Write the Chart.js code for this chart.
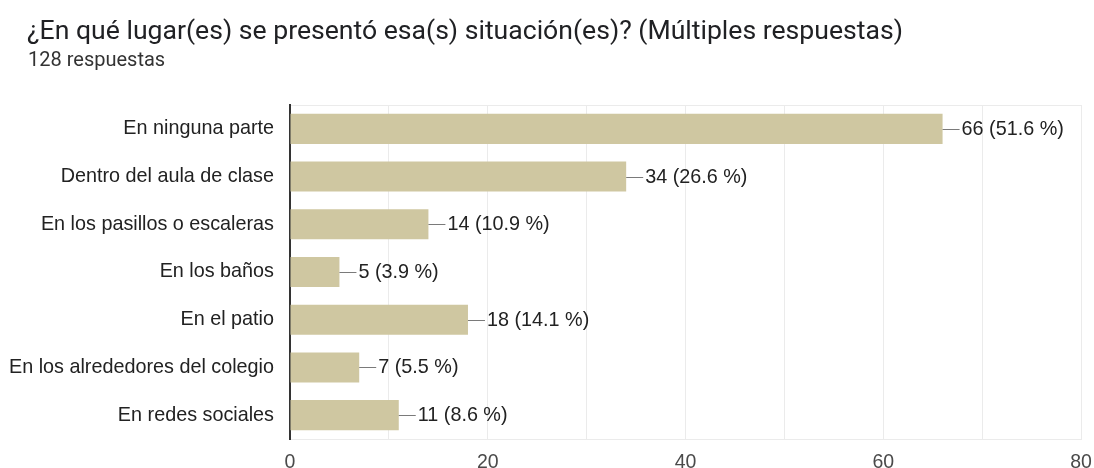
<!DOCTYPE html>
<html>
<head>
<meta charset="utf-8">
<script src="https://cdn.jsdelivr.net/npm/chart.js@4.4.1/dist/chart.umd.min.js"></script>
<style>
  html, body { margin: 0; padding: 0; background: #ffffff; }
  #wrap { width: 1094px; height: 468px; position: relative; }
</style>
</head>
<body>
<div id="wrap"><canvas id="c" width="1094" height="468"></canvas></div>
<script>
// Survey question, response count and answers
const questionTitle = '¿En qué lugar(es) se presentó esa(s) situación(es)? (Múltiples respuestas)';
const responseCount = 128;
const places = [
  'En ninguna parte',
  'Dentro del aula de clase',
  'En los pasillos o escaleras',
  'En los baños',
  'En el patio',
  'En los alrededores del colegio',
  'En redes sociales'
];
const answers = [66, 34, 14, 5, 18, 7, 11];
const axisMax = 80;

const TITLE_FONT = 'Roboto, "Noto Sans", sans-serif';
const LABEL_FONT = '"Liberation Sans", Arial, sans-serif';
const GRID = '#ebebeb';

// Question heading and response count, left-aligned above the plot
const heading = {
  id: 'heading',
  afterDraw(chart) {
    const ctx = chart.ctx;
    ctx.save();
    ctx.textAlign = 'left';
    ctx.textBaseline = 'alphabetic';
    ctx.fillStyle = '#202124';
    ctx.font = '26.6px ' + TITLE_FONT;
    ctx.fillText(questionTitle, 27, 39);
    ctx.fillStyle = '#333333';
    ctx.font = '20px ' + TITLE_FONT;
    ctx.fillText(responseCount + ' respuestas', 28, 66);
    ctx.restore();
  }
};

// Value labels with a short leader line at the end of each bar
const valueLabels = {
  id: 'valueLabels',
  afterDatasetsDraw(chart) {
    const ctx = chart.ctx;
    const meta = chart.getDatasetMeta(0);
    const data = chart.data.datasets[0].data;
    ctx.save();
    ctx.font = '19.8px ' + LABEL_FONT;
    ctx.textBaseline = 'middle';
    ctx.textAlign = 'left';
    meta.data.forEach((bar, i) => {
      const v = data[i];
      const pct = (v / responseCount * 100).toFixed(1);
      const x = bar.x, y = Math.round(bar.y);
      ctx.strokeStyle = '#7a7a7a';
      ctx.lineWidth = 1;
      ctx.beginPath();
      ctx.moveTo(x, y + 0.5);
      ctx.lineTo(x + 17, y + 0.5);
      ctx.stroke();
      ctx.fillStyle = '#222222';
      ctx.fillText(v + ' (' + pct + ' %)', x + 19, y + 1);
    });
    ctx.restore();
  }
};

new Chart(document.getElementById('c'), {
  type: 'bar',
  data: {
    labels: places,
    datasets: [{
      data: answers,
      backgroundColor: '#cfc7a1',
      borderWidth: 0,
      categoryPercentage: 1,
      barPercentage: 0.63
    }]
  },
  options: {
    indexAxis: 'y',
    responsive: false,
    animation: false,
    devicePixelRatio: 1,
    layout: { padding: { left: 0, right: 13, top: 105, bottom: 0 } },
    plugins: {
      legend: { display: false },
      tooltip: { enabled: false },
      title: { display: false }
    },
    scales: {
      x: {
        min: 0,
        max: axisMax,
        afterFit(scale) {
          scale.height = 29;
          scale.paddingLeft = 0;
          scale.paddingRight = 0;
        },
        ticks: {
          stepSize: 10,
          padding: 12,
          color: '#4a4a4a',
          font: { family: LABEL_FONT, size: 19.5 },
          callback: (v) => (v % 20 === 0 ? v : '')
        },
        grid: { color: GRID, drawTicks: false, tickLength: 0 },
        border: { color: GRID }
      },
      y: {
        afterFit(scale) { scale.width = 290; },
        ticks: {
          padding: 16,
          color: '#222222',
          font: { family: LABEL_FONT, size: 19.8 }
        },
        grid: {
          drawTicks: false,
          tickLength: 0,
          color: (ctx) => (ctx.type !== 'tick' || ctx.index === 0 ? GRID : 'rgba(0,0,0,0)')
        },
        border: { color: '#333333', width: 2 }
      }
    }
  },
  plugins: [valueLabels, heading]
});
</script>
</body>
</html>
